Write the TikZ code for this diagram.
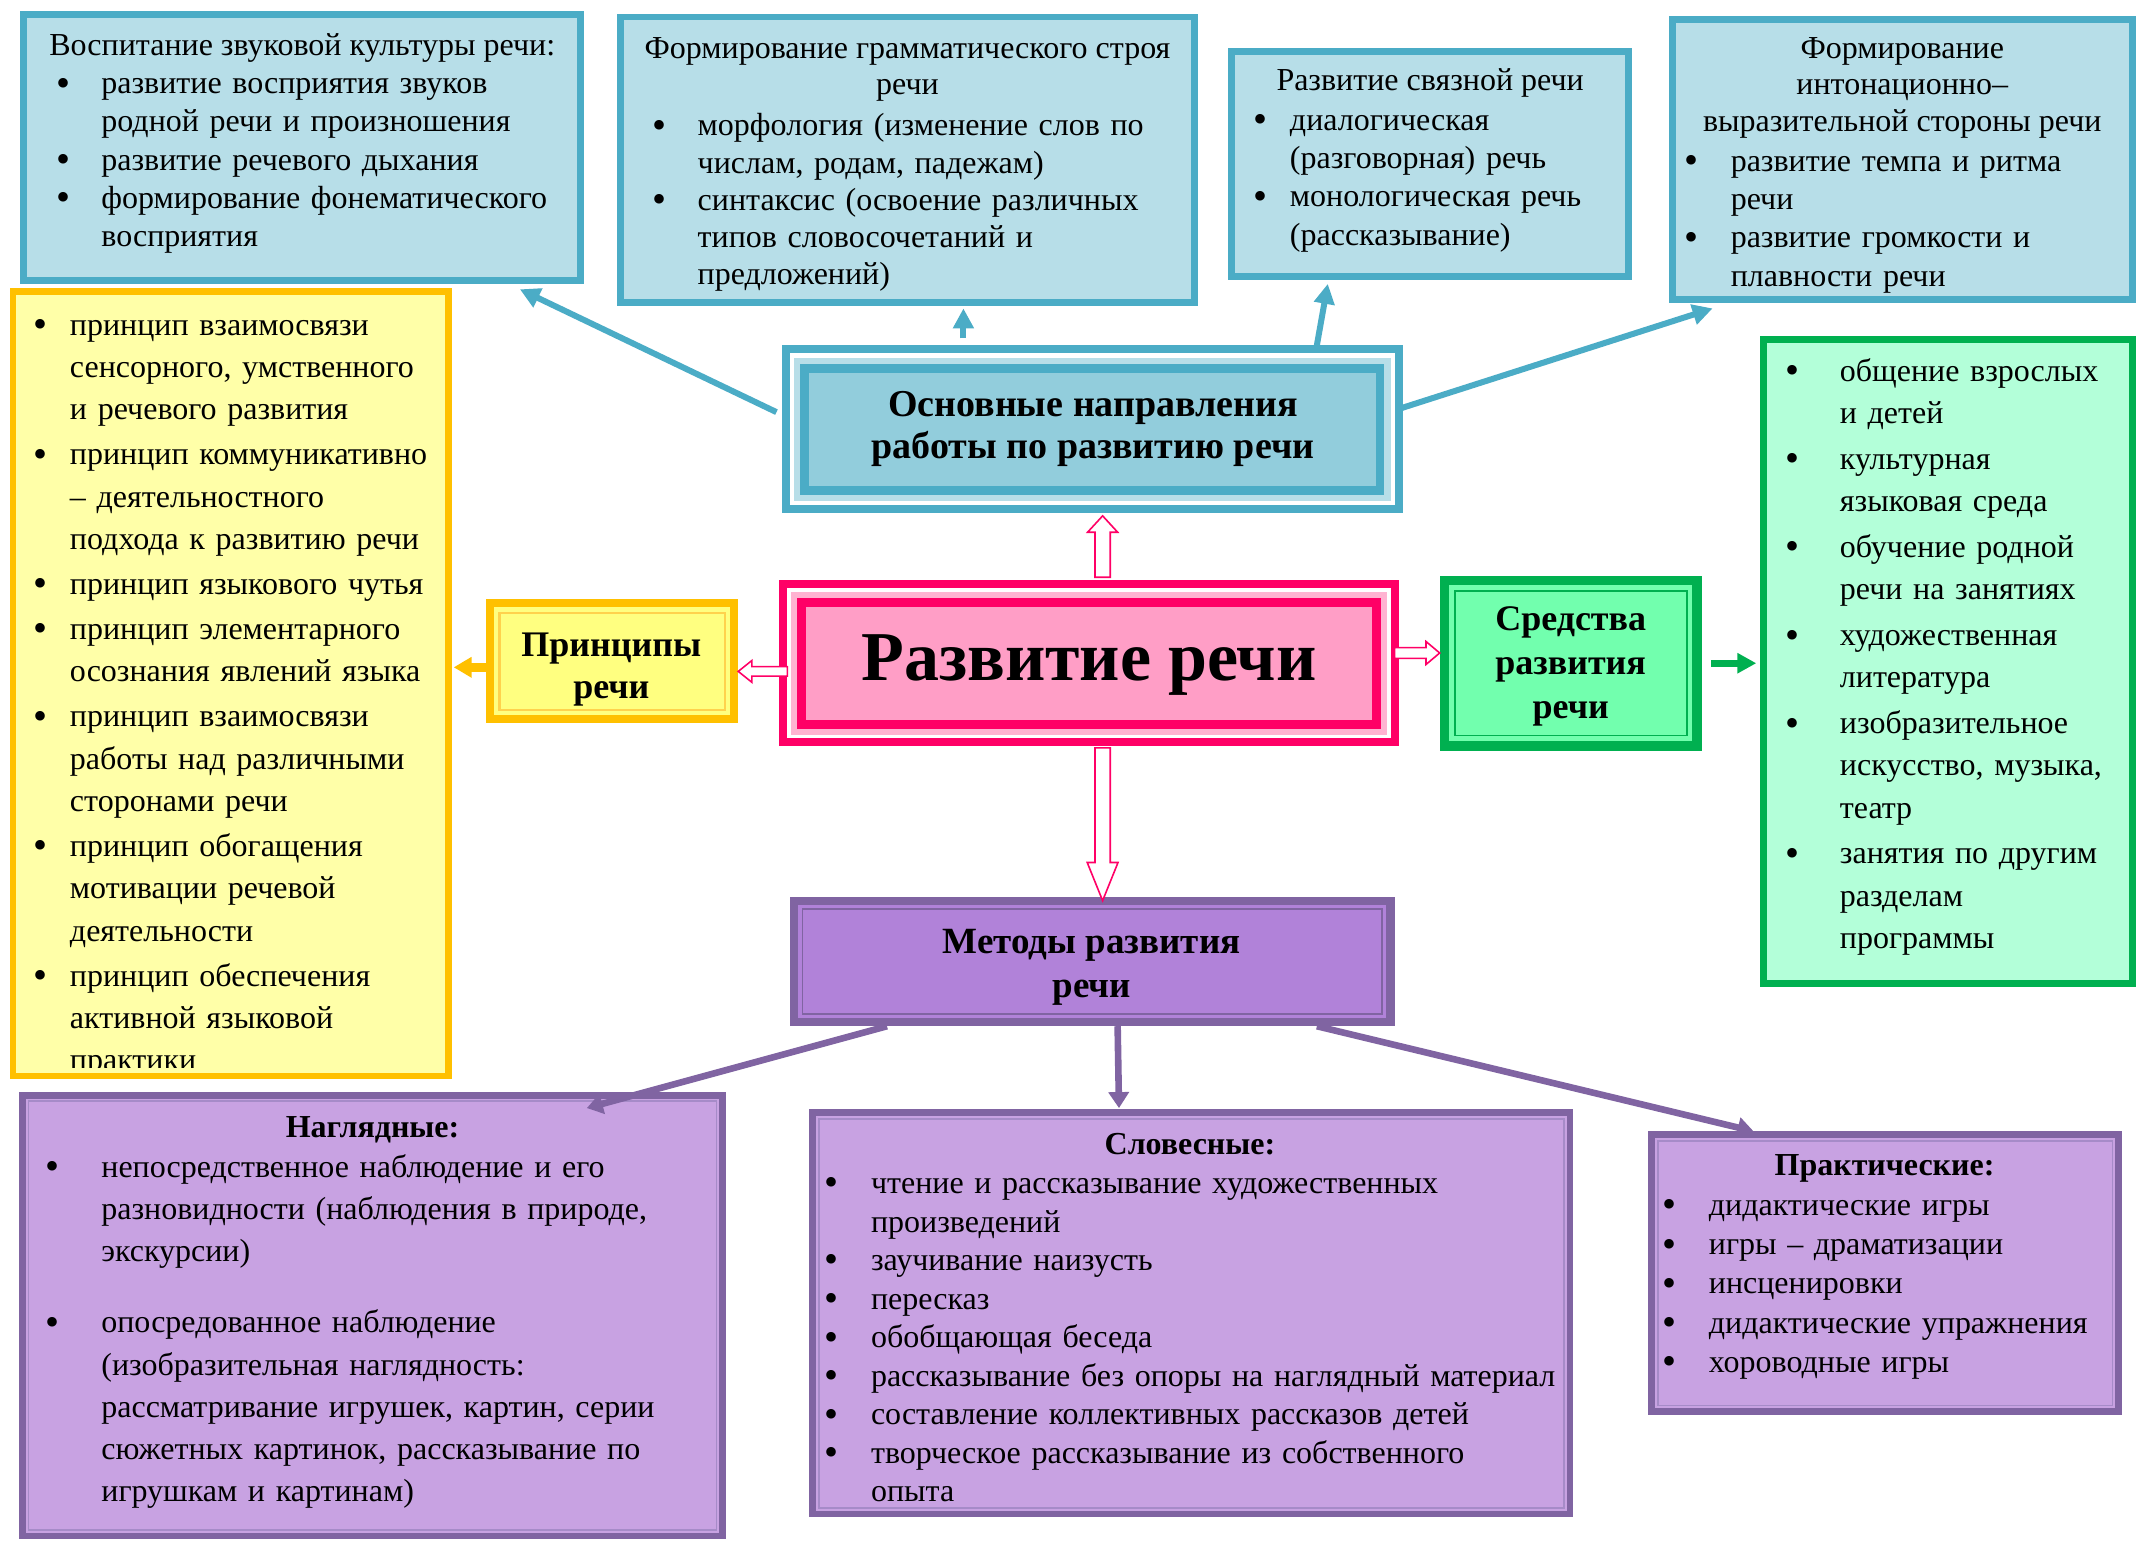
\documentclass[tikz,border=0pt]{standalone}
\usepackage{fontspec}
\setmainfont{Liberation Serif}
\usetikzlibrary{arrows.meta,calc,fit}
\newdimen\pxd \pxd=0.6824pt
\definecolor{blB}{HTML}{4BACC6}
\definecolor{blL}{HTML}{B7DEE8}
\definecolor{blM}{HTML}{92CDDC}
\definecolor{ylB}{HTML}{FFC000}
\definecolor{ylL}{HTML}{FFFFA8}
\definecolor{ylM}{HTML}{FFFF80}
\definecolor{ylT}{HTML}{FFD24D}
\definecolor{pkB}{HTML}{FF0066}
\definecolor{pkL}{HTML}{FFB3D1}
\definecolor{pkM}{HTML}{FF9EC6}
\definecolor{gnB}{HTML}{00B050}
\definecolor{gnM}{HTML}{72FFAE}
\definecolor{gnL}{HTML}{B3FFD9}
\definecolor{ppB}{HTML}{8064A2}
\definecolor{ppM}{HTML}{B182D9}
\definecolor{ppL}{HTML}{C8A2E2}
\definecolor{ppT}{HTML}{A68BC8}
\newcommand\fs[1]{\fontsize{16pt}{#1\pxd}\selectfont}
\newcommand\bul{{\fontsize{20pt}{0pt}\selectfont\raisebox{-1.2pt}{\textbullet}}}
\newcommand\itmf[1]{\hangindent=#1\hangafter=1\noindent\strut\makebox[#1][l]{\bul}\ignorespaces}
\newcommand\itm[1]{\par\itmf{#1}}
\begin{document}
\begin{tikzpicture}[x=0.6824pt, y=-0.6824pt,
  box/.style={inner sep=0pt, outer sep=0pt, rectangle},
  lst/.style={inner sep=0pt, anchor=north west, align=left, text width=480pt},
  ttl/.style={inner sep=0pt, anchor=base, font=\fs{28}},
  btl/.style={inner sep=0pt, anchor=north, align=center},
  bluearr/.style={draw=blB, line width=3pt, -{Triangle[length=10pt,width=10pt]}},
  purparr/.style={draw=ppB, line width=3.3pt, -{Triangle[length=8pt,width=10pt]}},
  hollow/.style={draw=pkB, fill=white, line width=0.8pt, line join=miter},
]
\useasboundingbox (0,0) rectangle (1568.2,1130);
\fill[white] (0,0) rectangle (1568.2,1130);

% ---------- top blue boxes
\node[box, fit={(17.5,10.5)(425.5,205.5)}, draw=blB, line width=3.4pt, fill=blL] (A) {};
\node[box, fit={(454.5,12.5)(875.5,221.5)}, draw=blB, line width=3.4pt, fill=blL] (B) {};
\node[box, fit={(902.5,37.5)(1193.5,202.5)}, draw=blB, line width=3.4pt, fill=blL] (C) {};
\node[box, fit={(1225.5,14.5)(1562.5,219.5)}, draw=blB, line width=3.4pt, fill=blL] (D) {};

% ---------- yellow
\node[box, fit={(9.5,213.5)(328.5,788.5)}, draw=ylB, line width=3.4pt, fill=ylL] (Y) {};
\node[box, fit={(359,442)(538,527)}, draw=ylB, line width=4.1pt, fill=ylM] (P) {};
\draw[ylT, line width=1.1pt] ([shift={(7,7)}]P.north west) rectangle ([shift={(-7,-7)}]P.south east);

% ---------- pink centre
\node[box, fit={(571,425)(1025,547)}, fill=pkB] (K) {};
\fill[white] ([shift={(6,6)}]K.north west) rectangle ([shift={(-6,-6)}]K.south east);
\fill[pkL] ([shift={(8.5,8.5)}]K.north west) rectangle ([shift={(-8.5,-8.5)}]K.south east);
\fill[pkB] ([shift={(13,13)}]K.north west) rectangle ([shift={(-13,-13)}]K.south east);
\fill[pkM] ([shift={(19.5,19.5)}]K.north west) rectangle ([shift={(-19.5,-19.5)}]K.south east);

% ---------- blue centre
\node[box, fit={(573,253)(1028,376)}, fill=blB] (O) {};
\fill[white] ([shift={(6,6)}]O.north west) rectangle ([shift={(-6,-6)}]O.south east);
\fill[blL] ([shift={(9,9)}]O.north west) rectangle ([shift={(-9,-9)}]O.south east);
\fill[blB] ([shift={(13.5,13.5)}]O.north west) rectangle ([shift={(-13.5,-13.5)}]O.south east);
\fill[blM] ([shift={(20,20)}]O.north west) rectangle ([shift={(-20,-20)}]O.south east);

% ---------- green
\node[box, fit={(1058.5,425.5)(1243.5,546.5)}, draw=gnB, line width=4.8pt, fill=gnM] (S) {};
\draw[gnB, line width=0.9pt] ([shift={(7.5,7.5)}]S.north west) rectangle ([shift={(-7.5,-7.5)}]S.south east);
\node[box, fit={(1292.5,248.5)(1562.5,720.5)}, draw=gnB, line width=3.4pt, fill=gnL] (G) {};

% ---------- purple
\node[box, fit={(582,660)(1019,749)}, draw=ppB, line width=4.1pt, fill=ppM] (M) {};
\draw[ppB, line width=0.9pt] ([shift={(6,6)}]M.north west) rectangle ([shift={(-6,-6)}]M.south east);
\node[box, fit={(16.5,802.5)(529.5,1125.5)}, draw=ppB, line width=3.4pt, fill=ppL] (N) {};
\draw[ppT, line width=0.8pt] ([shift={(4.5,4.5)}]N.north west) rectangle ([shift={(-4.5,-4.5)}]N.south east);
\node[box, fit={(595.5,815.5)(1150.5,1109.5)}, draw=ppB, line width=3.4pt, fill=ppL] (V) {};
\draw[ppT, line width=0.8pt] ([shift={(4.5,4.5)}]V.north west) rectangle ([shift={(-4.5,-4.5)}]V.south east);
\node[box, fit={(1210.5,831.5)(1552.5,1034.5)}, draw=ppB, line width=3.4pt, fill=ppL] (R) {};
\draw[ppT, line width=0.8pt] ([shift={(4.5,4.5)}]R.north west) rectangle ([shift={(-4.5,-4.5)}]R.south east);

% ---------- texts: top boxes
\node[ttl] (At) at (221.5,40.3) {Воспитание звуковой культуры речи:};
\node[lst, font=\fs{28}] (Al) at (41,48.7) {%
\itmf{33\pxd}развитие восприятия звуков\newline родной речи и произношения
\itm{33\pxd}развитие речевого дыхания
\itm{33\pxd}формирование фонематического\newline восприятия\par};

\node[btl, font=\fs{27}] (Bt) at (665,23.4) {\strut Формирование грамматического строя\\речи};
\node[lst, font=\fs{27.3}] (Bl) at (478,80.2) {%
\itmf{33\pxd}морфология (изменение слов по\newline числам, родам, падежам)
\itm{33\pxd}синтаксис (освоение различных\newline типов словосочетаний и\newline предложений)\par};

\node[ttl] (Ct) at (1048,66.3) {Развитие связной речи};
\node[lst, font=\fs{28}] (Cl) at (918,75.7) {%
\itmf{27\pxd}диалогическая\newline (разговорная) речь
\itm{27\pxd}монологическая речь\newline (рассказывание)\par};

\node[btl, font=\fs{27}] (Dt) at (1394,23.4) {\strut Формирование\\интонационно–\\выразительной стороны речи};
\node[lst, font=\fs{28}] (Dl) at (1234,105.7) {%
\itmf{34\pxd}развитие темпа и ритма\newline речи
\itm{34\pxd}развитие громкости и\newline плавности речи\par};

% ---------- yellow list
\begin{scope}
\clip ([shift={(2,2)}]Y.north west) rectangle ([shift={(-2,-6)}]Y.south east);
\node[lst, font=\fs{31}] (Yl) at (24,223.6) {\setlength\parskip{2\pxd}%
\itmf{27\pxd}принцип взаимосвязи\newline сенсорного, умственного\newline и речевого развития
\itm{27\pxd}принцип коммуникативно\newline – деятельностного\newline подхода к развитию речи
\itm{27\pxd}принцип языкового чутья
\itm{27\pxd}принцип элементарного\newline осознания явлений языка
\itm{27\pxd}принцип взаимосвязи\newline работы над различными\newline сторонами речи
\itm{27\pxd}принцип обогащения\newline мотивации речевой\newline деятельности
\itm{27\pxd}принцип обеспечения\newline активной языковой\newline практики\par};
\end{scope}

% ---------- green list
\node[lst, font=\fs{31}] (Gl) at (1308,257.6) {\setlength\parskip{2.5\pxd}%
\itmf{40\pxd}общение взрослых\newline и детей
\itm{40\pxd}культурная\newline языковая среда
\itm{40\pxd}обучение родной\newline речи на занятиях
\itm{40\pxd}художественная\newline литература
\itm{40\pxd}изобразительное\newline искусство, музыка,\newline театр
\itm{40\pxd}занятия по другим\newline разделам\newline программы\par};

% ---------- centre titles
\node[btl, font=\bfseries\fontsize{19pt}{31\pxd}\selectfont] (Ot) at (801,283) {\strut Основные направления\\работы по развитию речи};
\node[inner sep=0pt, anchor=base, font=\bfseries\fontsize{35pt}{42pt}\selectfont] (Kt) at (798,499) {Развитие речи};
\node[btl, font=\bfseries\fontsize{18pt}{31\pxd}\selectfont] (Pt) at (448,459.2) {\strut Принципы\\речи};
\node[btl, font=\bfseries\fontsize{18pt}{32\pxd}\selectfont] (St) at (1151,439.5) {\strut Средства\\развития\\речи};
\node[btl, font=\bfseries\fontsize{18.5pt}{32\pxd}\selectfont] (Mt) at (800,676) {\strut Методы развития\\речи};

% ---------- bottom boxes
\node[ttl, font=\bfseries\fs{28}] (Nt) at (273,833.3) {Наглядные:};
\node[lst, font=\fs{31}] (Nl) at (33,840.6) {%
\itmf{41\pxd}непосредственное наблюдение и его\newline разновидности (наблюдения в природе,\newline экскурсии)
\par\vspace{21\pxd}%
\itmf{41\pxd}опосредованное наблюдение\newline (изобразительная наглядность:\newline рассматривание игрушек, картин, серии\newline сюжетных картинок, рассказывание по\newline игрушкам и картинам)\par};

\node[ttl, font=\bfseries\fs{28}] (Vt) at (872,846.3) {Словесные:};
\node[lst, font=\fs{28.25}] (Vl) at (604,854.5) {%
\itmf{34\pxd}чтение и рассказывание художественных\newline произведений
\itm{34\pxd}заучивание наизусть
\itm{34\pxd}пересказ
\itm{34\pxd}обобщающая беседа
\itm{34\pxd}рассказывание без опоры на наглядный материал
\itm{34\pxd}составление коллективных рассказов детей
\itm{34\pxd}творческое рассказывание из собственного\newline опыта\par};

\node[ttl, font=\bfseries\fs{28}] (Rt) at (1381,861.3) {Практические:};
\node[lst, font=\fs{28.75}] (Rl) at (1218,870.2) {%
\itmf{34\pxd}дидактические игры
\itm{34\pxd}игры – драматизации
\itm{34\pxd}инсценировки
\itm{34\pxd}дидактические упражнения
\itm{34\pxd}хороводные игры\par};

% ---------- blue connectors
\draw[bluearr] ($(O.west)+(-4,-12.5)$) -- ($(A.south east)+(-44.5,6.5)$);
\coordinate (ob) at ($(O.north)+(-94.5,-5)$);
\draw[bluearr] (ob) -- ($(ob |- B.south)+(0,4.5)$);
\draw[bluearr] ($(O.north)+(164.5,0)$) -- ($(C.south)+(-75,5.5)$);
\draw[bluearr] ($(O.east)+(-4,-14.5)$) -- ($(D.south west)+(29.5,6.5)$);

% ---------- hollow arrows from the centre
\coordinate (hu1) at ($(K.north)+(10,-2)$);
\coordinate (hu2) at ($(hu1 |- O.south)+(0,2)$);
\draw[hollow] ($(hu1)+(-5.6,0)$) -- ($(hu2)+(-5.6,12)$) -- ($(hu2)+(-11,12)$) -- (hu2) -- ($(hu2)+(11,12)$) -- ($(hu2)+(5.6,12)$) -- ($(hu1)+(5.6,0)$) -- cycle;
\coordinate (hd1) at ($(K.south)+(10,1)$);
\coordinate (hd2) at (hd1 |- M.north);
\draw[hollow] ($(hd1)+(-5.6,0)$) -- ($(hd2)+(-5.6,-28)$) -- ($(hd2)+(-11.3,-28)$) -- (hd2) -- ($(hd2)+(11.3,-28)$) -- ($(hd2)+(5.6,-28)$) -- ($(hd1)+(5.6,0)$) -- cycle;
\coordinate (hl1) at ($(K.west)+(6,6)$);
\coordinate (hl2) at ($(hl1 -| P.east)+(3,0)$);
\draw[hollow] ($(hl1)+(0,-3.5)$) -- ($(hl2)+(10,-3.5)$) -- ($(hl2)+(10,-8)$) -- (hl2) -- ($(hl2)+(10,8)$) -- ($(hl2)+(10,3.5)$) -- ($(hl1)+(0,3.5)$) -- cycle;
\coordinate (hr1) at ($(K.east)+(-3,-7.5)$);
\coordinate (hr2) at ($(hr1 -| S.west)+(-3.5,0)$);
\draw[hollow] ($(hr1)+(0,-3.9)$) -- ($(hr2)+(-10,-3.9)$) -- ($(hr2)+(-10,-8.4)$) -- (hr2) -- ($(hr2)+(-10,8.4)$) -- ($(hr2)+(-10,3.9)$) -- ($(hr1)+(0,3.9)$) -- cycle;

% ---------- yellow and green arrows
\coordinate (py) at ($(P.west)+(0,4.5)$);
\draw[draw=ylB, line width=4.4pt, -{Triangle[length=8.9pt,width=9.8pt]}] (py) -- ($(py -| Y.east)+(4,0)$);
\coordinate (g1) at ($(S.east)+(10.5,0)$);
\draw[draw=gnB, line width=3.4pt, -{Triangle[length=9.5pt,width=9.7pt]}] (g1) -- ($(g1 -| G.west)+(-5.5,0)$);

% ---------- purple connectors
\draw[purparr] ($(M.south west)+(68,3)$) -- ($(N.north east)+(-99.5,9.5)$);
\draw[purparr] ($(M.south)+(18.5,3)$) -- ($(V.north)+(-53,-3.5)$);
\draw[purparr] ($(M.south east)+(-54,3)$) -- ($(R.north west)+(74.5,-2.5)$);
\end{tikzpicture}
\end{document}
